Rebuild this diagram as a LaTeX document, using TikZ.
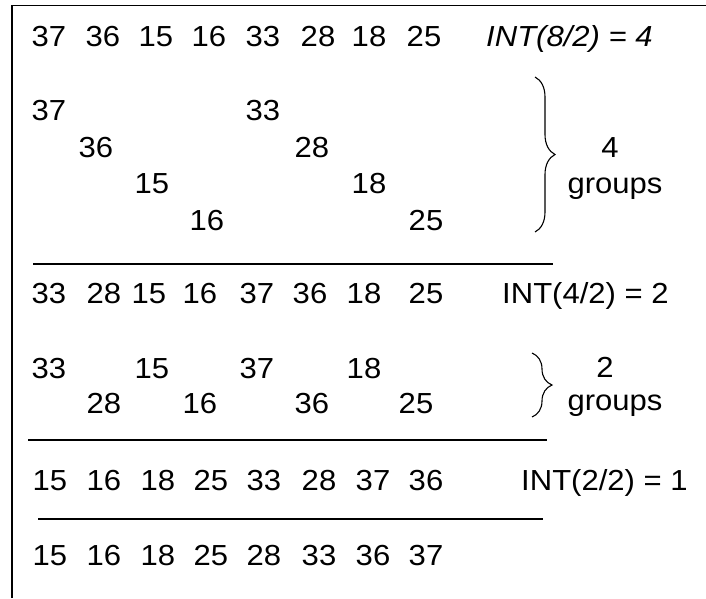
\documentclass[tikz,border=0pt]{standalone}
\usepackage{fontspec}
\setmainfont{Liberation Sans}
\usetikzlibrary{decorations.pathreplacing}
\tikzset{
	num/.style={inner sep=0pt, anchor=base, xscale=1.07, font=\fontsize{29}{34}\selectfont},
	note/.style={num, anchor=base west},
	rule/.style={line width=1.6pt},
	grpbrace/.style={decorate, decoration={brace, amplitude=20pt}, line width=1.1pt}
}

\begin{document}
\begin{tikzpicture}[x=1pt, y=-1pt]
			%%%%% START %%%%%
			\useasboundingbox (0, 0) rectangle (706, 598);
			
			\draw[rule] (12, 598) -- (12, 5.5) -- (706, 5.5);
			
			% start list, gap 4
			\node[num] (sa) at (49, 46) {37};
			\node[num] (sb) at (103, 46) {36};
			\node[num] (sc) at (156, 46) {15};
			\node[num] (sd) at (209, 46) {16};
			\node[num] (se) at (263, 46) {33};
			\node[num] (sf) at (318, 46) {28};
			\node[num] (sg) at (369, 46) {18};
			\node[num] (sh) at (424, 46) {25};
			\node[note, font=\fontsize{29}{34}\selectfont\itshape] (gapa) at (486, 46) {INT(8/2) = 4};
			
			\node[num] (fa) at (49, 120) {37};
			\node[num] (fe) at (263, 120) {33};
			\node[num] (fb) at (96, 157) {36};
			\node[num] (ff) at (312, 157) {28};
			\node[num] (fc) at (152, 193) {15};
			\node[num] (fg) at (369, 193) {18};
			\node[num] (fd) at (207, 230) {16};
			\node[num] (fh) at (426, 230) {25};
			
			\draw[grpbrace] (535, 77) -- (535, 232);
			\node[num] (fourn) at (610, 157) {4};
			\node[num] (fourg) at (615, 193) {groups};
			
			\draw[rule] (33, 264) -- (553, 264);
			
			% after pass 1, gap 2
			\node[num] (pa) at (49, 303) {33};
			\node[num] (pb) at (104, 303) {28};
			\node[num] (pc) at (149, 303) {15};
			\node[num] (pd) at (200, 303) {16};
			\node[num] (pe) at (257, 303) {37};
			\node[num] (pf) at (310, 303) {36};
			\node[num] (pg) at (364, 303) {18};
			\node[num] (ph) at (426, 303) {25};
			\node[note] (gapb) at (502, 303) {INT(4/2) = 2};
			
			\node[num] (ta) at (49, 378) {33};
			\node[num] (tc) at (152, 378) {15};
			\node[num] (te) at (257, 378) {37};
			\node[num] (tg) at (364, 378) {18};
			\node[num] (tb) at (104, 413) {28};
			\node[num] (td) at (200, 413) {16};
			\node[num] (tf) at (312, 413) {36};
			\node[num] (th) at (416, 413) {25};
			
			\draw[grpbrace] (532, 353) -- (532, 417);
			\node[num] (twon) at (605, 377) {2};
			\node[num] (twog) at (615, 410) {groups};
			
			\draw[rule] (28, 440) -- (547, 440);
			
			% after pass 2, gap 1
			\node[num] (qa) at (50, 490) {15};
			\node[num] (qb) at (104, 490) {16};
			\node[num] (qc) at (158, 490) {18};
			\node[num] (qd) at (211, 490) {25};
			\node[num] (qe) at (264, 490) {33};
			\node[num] (qf) at (319, 490) {28};
			\node[num] (qg) at (373, 490) {37};
			\node[num] (qh) at (426, 490) {36};
			\node[note] (gapc) at (521, 490) {INT(2/2) = 1};
			
			\draw[rule] (38, 519) -- (543, 519);
			
			% sorted
			\node[num] (za) at (50, 565) {15};
			\node[num] (zb) at (104, 565) {16};
			\node[num] (zc) at (158, 565) {18};
			\node[num] (zd) at (211, 565) {25};
			\node[num] (ze) at (264, 565) {28};
			\node[num] (zf) at (319, 565) {33};
			\node[num] (zg) at (373, 565) {36};
			\node[num] (zh) at (426, 565) {37};
			%%%%% END %%%%%
		\end{tikzpicture}
\end{document}
